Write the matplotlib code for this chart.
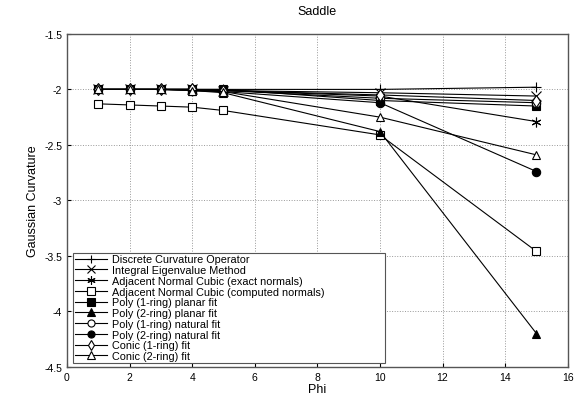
import matplotlib.pyplot as plt

plt.rcParams['font.family'] = ['Liberation Sans', 'DejaVu Sans']

phi = [1, 2, 3, 4, 5, 10, 15]

discrete = [-2.0, -2.0, -2.0, -2.0, -2.0, -2.0, -1.98]
integral = [-2.0, -2.0, -2.0, -2.0, -2.01, -2.03, -2.06]
anc_exact = [-2.0, -2.0, -2.0, -2.0, -2.01, -2.06, -2.29]
anc_computed = [-2.13, -2.14, -2.15, -2.16, -2.19, -2.41, -3.46]
poly1_planar = [-2.0, -2.0, -2.0, -2.0, -2.0, -2.1, -2.15]
poly2_planar = [-2.0, -2.0, -2.0, -2.01, -2.03, -2.38, -4.2]
poly1_natural = [-2.0, -2.0, -2.0, -2.0, -2.01, -2.08, -2.12]
poly2_natural = [-2.0, -2.0, -2.0, -2.01, -2.02, -2.12, -2.74]
conic1 = [-2.0, -2.0, -2.0, -2.0, -2.01, -2.05, -2.1]
conic2 = [-2.0, -2.0, -2.0, -2.01, -2.02, -2.25, -2.59]

labels = ["Discrete Curvature Operator", "Integral Eigenvalue Method",
          "Adjacent Normal Cubic (exact normals)", "Adjacent Normal Cubic (computed normals)",
          "Poly (1-ring) planar fit", "Poly (2-ring) planar fit",
          "Poly (1-ring) natural fit", "Poly (2-ring) natural fit",
          "Conic (1-ring) fit", "Conic (2-ring) fit"]
series = [discrete, integral, anc_exact, anc_computed, poly1_planar, poly2_planar,
          poly1_natural, poly2_natural, conic1, conic2]
markers = ['+', 'x', (6, 2, 0), 's', 's', '^', 'o', 'o', 'd', '^']
filled = [True, True, True, False, True, True, False, True, False, False]

fig = plt.figure(figsize=(5.77, 4.06), dpi=100)
ax = fig.add_axes([0.116, 0.094, 0.868, 0.82])

for y, lab, m, f in zip(series, labels, markers, filled):
    big = m in ('+', 'x') or isinstance(m, tuple)
    ax.plot(phi, y, color='black', lw=0.8, marker=m, ms=7 if big else 6,
            markerfacecolor='black' if f else 'white', markeredgecolor='black',
            markeredgewidth=0.8, label=lab)

ax.set_xlim(0, 16)
ax.set_ylim(-4.5, -1.5)
ax.set_xticks(range(0, 17, 2))
ax.set_yticks([-4.5, -4, -3.5, -3, -2.5, -2, -1.5])
ax.set_yticklabels(['-4.5', '-4', '-3.5', '-3', '-2.5', '-2', '-1.5'])
ax.tick_params(labelsize=7.5, direction='in', length=3)
ax.grid(True, linestyle=':', color='#999999', lw=0.7)
for s in ax.spines.values():
    s.set_color('#555555')
    s.set_linewidth(1.0)

ax.set_title("Saddle", fontsize=9, pad=14)
ax.set_xlabel("Phi", fontsize=9, labelpad=1)
ax.set_ylabel("Gaussian Curvature", fontsize=9, labelpad=4)

leg = ax.legend(loc='lower left', bbox_to_anchor=(0.004, 0, 0.64, 1), mode='expand',
                fontsize=7.8, labelspacing=0.07, handlelength=3.0,
                handletextpad=0.5, borderpad=0.15, borderaxespad=0.37, fancybox=False,
                framealpha=1, edgecolor='#555555', markerscale=0.85)
leg.get_frame().set_linewidth(0.8)

fig.savefig("out.png", dpi=100)
